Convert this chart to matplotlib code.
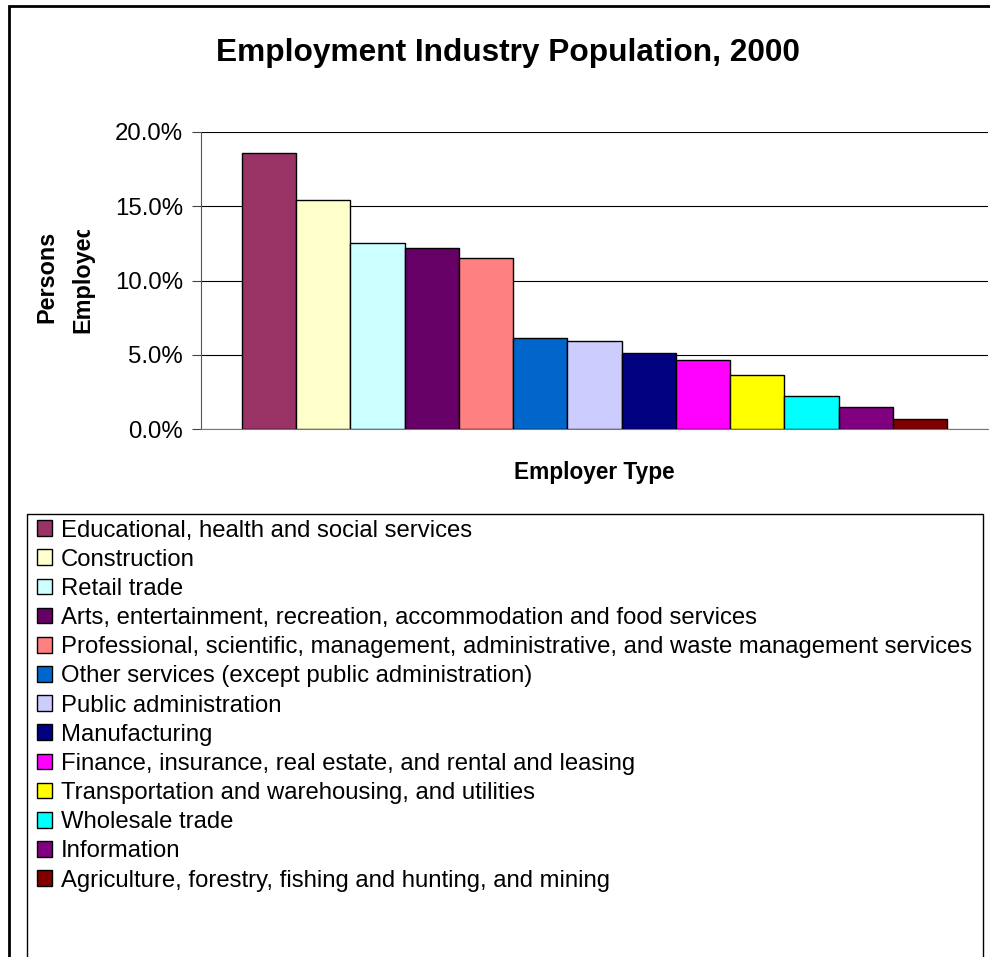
import matplotlib
matplotlib.use("Agg")
import matplotlib.pyplot as plt
from matplotlib.patches import Rectangle
from matplotlib.transforms import Bbox, TransformedBbox

plt.rcParams['font.family'] = ['Liberation Sans', 'DejaVu Sans']

industries = [
    "Educational, health and social services",
    "Construction",
    "Retail trade",
    "Arts, entertainment, recreation, accommodation and food services",
    "Professional, scientific, management, administrative, and waste management services",
    "Other services (except public administration)",
    "Public administration",
    "Manufacturing",
    "Finance, insurance, real estate, and rental and leasing",
    "Transportation and warehousing, and utilities",
    "Wholesale trade",
    "Information",
    "Agriculture, forestry, fishing and hunting, and mining",
]
share = [18.6, 15.4, 12.5, 12.2, 11.5, 6.1, 5.9, 5.1, 4.65, 3.65, 2.2, 1.45, 0.7]
colors = ["#993366", "#FFFFCC", "#CCFFFF", "#660066", "#FF8080", "#0066CC",
          "#CCCCFF", "#000080", "#FF00FF", "#FFFF00", "#00FFFF", "#800080", "#800000"]
yticks = [0, 5, 10, 15, 20]

W, H = 990, 957
fig = plt.figure(figsize=(W / 100, H / 100), dpi=100)
ax = fig.add_axes([201 / W, 1 - 429 / H, 787 / W, 297 / H])

for i, (name, v, c) in enumerate(zip(industries, share, colors)):
    ax.bar(i, v, width=1.0, color=c, edgecolor="black", linewidth=1.0,
           label=name, zorder=3)

ax.set_xlim(-1.256, 13.256)
ax.set_ylim(0, 20)
ax.set_yticks(yticks)
ax.set_yticklabels([f"{t:.1f}%" for t in yticks], fontsize=17.3)
ax.set_xticks([])
ax.grid(axis="y", color="black", linewidth=0.8, zorder=0)
ax.tick_params(axis="y", length=6.5, width=0.8, color="#444444", pad=6.5)
for s in ["top", "right"]:
    ax.spines[s].set_visible(False)
ax.spines["left"].set_color("#555555")
ax.spines["bottom"].set_color("#777777")
ax.spines["left"].set_linewidth(0.8)
ax.spines["bottom"].set_linewidth(0.8)

fig.text(508 / W, 1 - 53 / H, "Employment Industry Population, 2000",
         ha="center", va="center", fontsize=22.8, fontweight="bold")
ax.set_xlabel("Employer Type", fontsize=16.3, fontweight="bold")
ax.xaxis.set_label_coords(0.5, -(473 - 429) / 297)
ax.xaxis.label.set_va("center")

# y label is cut off at the top in the original chart
ylab = ax.set_ylabel("Persons\nEmployed", fontsize=16.8, fontweight="bold",
                     linespacing=1.72)
ax.yaxis.set_label_coords(-(201 - 64.5) / 787, (429 - 277) / 297)
ylab.set_va("center")
ylab.set_clip_box(TransformedBbox(Bbox([[0, 0], [1, 1 - 230 / H]]), fig.transFigure))
ylab.set_clip_on(True)

# outer chart frame (cut off at right and bottom)
fig.add_artist(Rectangle((9 / W, -0.1), 1.0, 1.1 - 5.7 / H, transform=fig.transFigure,
                         fill=False, edgecolor="black", linewidth=2.0, clip_on=False))
# legend frame
fig.add_artist(Rectangle((27 / W, -0.1), (982.7 - 27) / W, 0.1 + 1 - 514 / H,
                         transform=fig.transFigure, fill=False, edgecolor="black",
                         linewidth=1.0, clip_on=False))

fig.legend(loc="upper left", bbox_to_anchor=(37 / W, 1 - 519.5 / H),
           frameon=False, fontsize=17.2, borderpad=0, borderaxespad=0,
           handlelength=0.63, handleheight=0.63, handletextpad=0.38,
           labelspacing=0.3)

fig.savefig("out.png", dpi=100)
